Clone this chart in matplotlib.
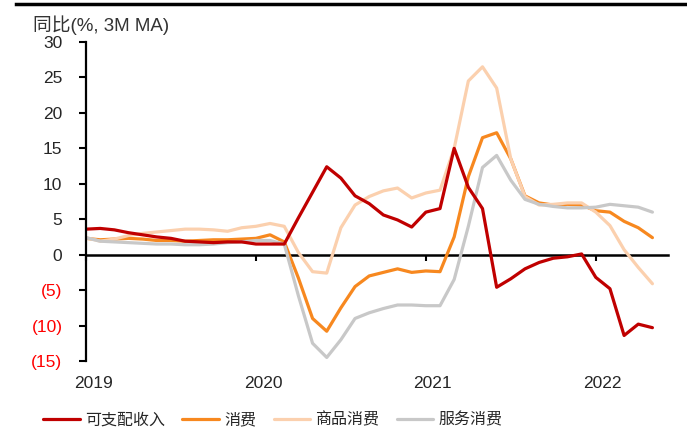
import matplotlib
matplotlib.use("Agg")
import matplotlib.pyplot as plt
import numpy as np
from matplotlib.lines import Line2D
from matplotlib.transforms import blended_transform_factory

# monthly, Jan 2019 .. May 2022, yoy % (3M MA)
income = [3.6, 3.7, 3.5, 3.1, 2.8, 2.5, 2.3, 1.9, 1.8, 1.7, 1.8, 1.8,
          1.5, 1.5, 1.5, 5.2, 8.8, 12.4, 10.8, 8.3, 7.2, 5.6, 4.9, 3.9,
          6.0, 6.5, 15.0, 9.5, 6.5, -4.6, -3.4, -2.0, -1.1, -0.5, -0.3, 0.1,
          -3.2, -4.8, -11.4, -9.8, -10.3]
consumption = [2.3, 2.1, 2.2, 2.3, 2.2, 2.0, 2.0, 1.9, 2.0, 2.1, 2.1, 2.2,
               2.3, 2.8, 1.8, -3.3, -9.0, -10.8, -7.5, -4.5, -3.0, -2.5, -2.0, -2.5,
               -2.3, -2.4, 2.5, 11.0, 16.5, 17.2, 13.5, 8.3, 7.3, 7.0, 7.1, 7.0,
               6.2, 6.0, 4.7, 3.8, 2.4]
goods = [2.4, 1.9, 2.2, 2.7, 3.0, 3.2, 3.4, 3.6, 3.6, 3.5, 3.3, 3.8,
         4.0, 4.4, 4.0, 0.3, -2.4, -2.6, 3.8, 7.0, 8.2, 9.0, 9.4, 8.0,
         8.7, 9.1, 15.0, 24.5, 26.5, 23.5, 13.5, 8.2, 7.0, 7.1, 7.3, 7.3,
         6.0, 4.1, 0.7, -1.8, -4.1]
services = [2.4, 1.9, 1.8, 1.7, 1.6, 1.5, 1.5, 1.4, 1.4, 1.5, 1.7, 1.8,
            2.0, 2.0, 1.5, -5.8, -12.5, -14.5, -12.0, -9.0, -8.2, -7.6, -7.1, -7.1,
            -7.2, -7.2, -3.5, 4.0, 12.3, 14.0, 10.5, 7.8, 7.1, 6.8, 6.6, 6.6,
            6.7, 7.1, 6.9, 6.7, 6.0]
series_names = ['可支配收入', '消费', '商品消费', '服务消费']
year_labels = ['2019', '2020', '2021', '2022']
y_ticks = [30, 25, 20, 15, 10, 5, 0, -5, -10, -15]

colors = ['#C00000', '#F7881F', '#FBD0AE', '#C8C8C8']
latin = ['Liberation Sans', 'Noto Sans CJK SC']
cjk = ['Noto Sans CJK SC', 'Liberation Sans']

fig = plt.figure(figsize=(6.87, 4.41), dpi=100)
ax = fig.add_axes([86/687, 1-361/441, (668-86)/687, (361-42)/441])

months = np.arange(len(income))
for vals, c, name in zip([income, consumption, goods, services], colors, series_names):
    ax.plot(months, vals, color=c, lw=2.3, label=name,
            solid_joinstyle='round', solid_capstyle='round')
# income sits on top where lines cross
ax.lines[0].set_zorder(2.5)

ax.set_ylim(-15, 30)
ax.set_xlim(0, 41.1)
ax.set_yticks(y_ticks)
ylabels = [str(v) if v >= 0 else f'({-v})' for v in y_ticks]
ax.set_yticklabels(ylabels, fontfamily=latin, fontsize=12.5)
for lab, v in zip(ax.get_yticklabels(), y_ticks):
    lab.set_color('#FF0000' if v < 0 else '#262626')
ax.tick_params(axis='y', direction='out', length=5, width=1.5, pad=12)

for s in ['top', 'right']:
    ax.spines[s].set_visible(False)
ax.spines['left'].set_linewidth(1.6)
ax.spines['bottom'].set_position(('data', 0))
ax.spines['bottom'].set_linewidth(1.8)
ax.spines['bottom'].set_zorder(1)
ax.set_xticks([0, 12, 24, 36])
ax.set_xticklabels([])
ax.tick_params(axis='x', direction='out', length=4, width=1.5)

trans = blended_transform_factory(ax.transData, ax.transAxes)
for i, lab in enumerate(year_labels):
    ax.text(12*i + 0.5, -0.069, lab, transform=trans, ha='center', va='center',
            fontsize=12.5, family=latin, color='#262626')

fig.text(33/687, 1-25/441, '同比(%, 3M MA)', ha='left', va='center',
         fontsize=13.5, family=latin, color='#333333')

# decorative rule at top of the figure
fig.add_artist(Line2D([16/687, 1], [1-4/441, 1-4/441], color='black', lw=2.5))

leg = fig.legend(loc='center', bbox_to_anchor=(0.397, 1-420/441), ncol=4,
                 frameon=False, handlelength=2.3, handletextpad=0.3,
                 columnspacing=1.1, prop={'family': cjk, 'size': 11.5})
for t in leg.get_texts():
    t.set_color('#262626')

fig.savefig('out.png', dpi=100)
